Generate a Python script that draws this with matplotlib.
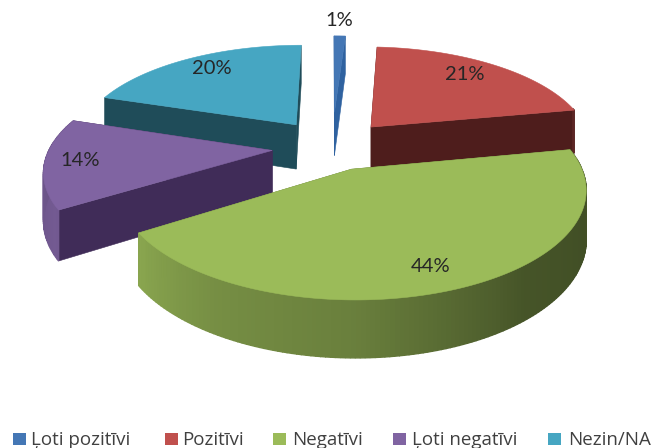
import numpy as np
import matplotlib
matplotlib.use("Agg")
import matplotlib.pyplot as plt
from matplotlib.patches import Polygon, Rectangle

categories = ["Ļoti pozitīvi", "Pozitīvi", "Negatīvi", "Ļoti negatīvi", "Nezin/NA"]
values = [1, 21, 44, 14, 20]
labels = ["1%", "21%", "44%", "14%", "20%"]
top_colors = ["#4477b5", "#c0504d", "#9bbb59", "#8064a2", "#46a6c2"]
wall_colors = ["#2f62a0", "#4e1d1c", "#5f7537", "#402c58", "#1f4c59"]
explode = [0.37, 0.275, 0.23, 0.27, 0.285]
label_xy = [(339, 20), (465, 74), (431, 266), (80, 161), (212, 69)]
legend_x = [13, 165, 273, 393, 548]
legend_text_x = [31, 182, 292, 412, 568]

CX, CY, A, B, P, D = 332.0, 147.0, 222.0, 100.0, 0.17, 46.0

fig = plt.figure(figsize=(6.59, 4.48), dpi=100)
ax = fig.add_axes([0, 0, 1, 1])
ax.set_xlim(0, 659)
ax.set_ylim(448, 0)
ax.axis("off")


def project(U, V, z=0.0):
    w = 1 + P * V
    return CX + A * U / w, CY - B * V / w + z * D / w


def shade(theta):
    return np.interp(theta, [80, 110, 140, 180, 210, 240, 270, 300],
                     [0.48, 0.42, 0.45, 0.68, 0.76, 0.9, 0.84, 0.84])


def darken(hex_color, f):
    return tuple(c * f for c in matplotlib.colors.to_rgb(hex_color))


def draw_slice(t1, t2, e, top, wall, zorder):
    mid = np.radians((t1 + t2) / 2)
    ox, oy = e * np.sin(mid), e * np.cos(mid)
    th = np.radians(np.linspace(t1, t2, max(3, int(t2 - t1))))
    U = ox + np.sin(th)
    V = oy + np.cos(th)
    ax0 = project(ox, oy)
    ax1 = project(ox, oy, 1)
    # radial walls
    for k in (0, -1):
        pts = [ax0, project(U[k], V[k]), project(U[k], V[k], 1), ax1]
        ax.add_patch(Polygon(pts, closed=True, fc=wall, ec=wall, lw=0.4, zorder=zorder))
    # rim wall, shaded along the angle, only where it faces the viewer
    for i in range(len(th) - 1):
        deg = np.degrees(th[i])
        if not 78 < deg < 287:
            continue
        pts = [project(U[i], V[i]), project(U[i + 1], V[i + 1]),
               project(U[i + 1], V[i + 1], 1), project(U[i], V[i], 1)]
        c = darken(top, shade(deg))
        ax.add_patch(Polygon(pts, closed=True, fc=c, ec=c, lw=1.0, zorder=zorder))
    # top surface
    pts = [ax0] + [project(u, v) for u, v in zip(U, V)]
    ax.add_patch(Polygon(pts, closed=True, fc=top, ec=top, lw=0.4, zorder=zorder + 0.5))


edges = np.cumsum([0] + values) * 3.6
order = [0, 4, 1, 3, 2]
for z, i in enumerate(order):
    draw_slice(edges[i], edges[i + 1], explode[i], top_colors[i], wall_colors[i], 2 + z)

for (x, y), s in zip(label_xy, labels):
    ax.text(x, y, s, ha="center", va="center", fontsize=14.5, color="#262626",
            family="Lato", zorder=20)

for i, name in enumerate(categories):
    ax.add_patch(Rectangle((legend_x[i], 433), 13, 12, fc=top_colors[i], ec="none", zorder=20))
    ax.text(legend_text_x[i], 445, name, ha="left", va="baseline", fontsize=13.5,
            color="#404040", family="Open Sans", zorder=20)

fig.savefig("out.png", dpi=100)
